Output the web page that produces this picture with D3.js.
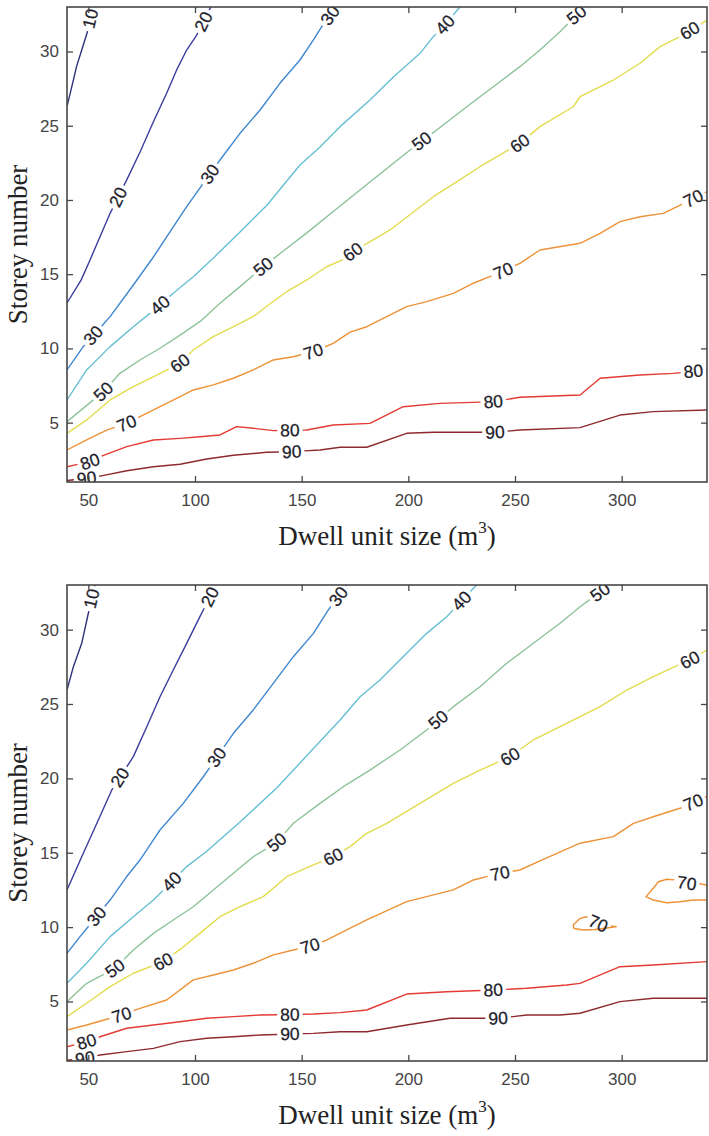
<!DOCTYPE html>
<html>
<head>
<meta charset="utf-8">
<script src="https://cdn.jsdelivr.net/npm/d3@7"></script>
<style>
  body { margin: 0; background: #fff; }
  svg { display: block; }
</style>
</head>
<body>
<svg id="chart" width="709" height="1136"></svg>
<script>
// ---- axis ticks and contour levels ----
const xTicks = [50, 100, 150, 200, 250, 300];
const yTicks = [5, 10, 15, 20, 25, 30];
const xDomain = [40, 340];
const yDomain = [1, 33];
const levels = [10, 20, 30, 40, 50, 60, 70, 80, 90];
const levelColors = ["#30307f", "#3b3d9c", "#3f86cf", "#66bfd3", "#8cc39a", "#e2dc4e", "#ee9237", "#e33b33", "#8e2a2e"];
const xTitle = "Dwell unit size (m";
const yTitle = "Storey number";

// ---- upper panel: contour lines as [dwell unit size, storey number] ----
const upper10 = [[40,26.3],[42.2,27.6],[44.5,29.0],[46.9,30.1],[49.5,31.3],[52.3,33]];
const upper20 = [[40,13.06],[46.6,14.6],[50.8,15.96],[60.2,19.1],[68.0,21.35],[74.3,23.25],[80.5,25.27],[86.7,27.19],[91.4,28.76],[96.1,30.1],[100.8,31.1],[107.4,33]];
const upper30 = [[40,8.55],[47.6,10.12],[60.2,12.14],[71.1,14.27],[80.5,16.16],[96.1,19.55],[111.7,22.69],[121.1,24.49],[130.5,26.06],[139.8,27.86],[149.2,29.43],[155.5,30.78],[159.4,31.67],[166.1,33]];
const upper40 = [[40,6.53],[49.2,8.55],[60.2,10.12],[71.1,11.46],[83.6,12.92],[89.8,13.71],[99.2,14.83],[108.6,16.09],[121.1,17.84],[133.8,19.66],[149.2,22.36],[158.6,23.57],[168,24.94],[182,26.73],[193.1,28.3],[205.5,29.88],[211.7,31.0],[217.2,31.8],[224.2,33]];
const upper50 = [[40,5.06],[57,7.08],[64.8,8.32],[74.2,9.22],[83.6,10.01],[93,10.9],[102.3,11.8],[111.7,13.04],[121.1,14.16],[132,15.5],[141.4,16.56],[152.4,17.78],[168,19.59],[182,21.21],[200.8,23.37],[213.3,24.71],[227.4,26.28],[239.8,27.63],[252.3,28.98],[261.7,30.1],[271.1,31.34],[278.9,32.46],[284.2,33]];
const upper60 = [[40,4.28],[49.2,5.18],[60.2,6.53],[71.1,7.42],[80.5,8.09],[93,9.0],[99.2,9.89],[108.6,10.79],[118,11.46],[127.3,12.14],[133.6,12.84],[143,13.82],[152.4,14.61],[161.7,15.5],[171.1,16.09],[174,16.5],[191.4,17.98],[199.2,18.84],[211.7,20.22],[221.1,21.08],[233.6,22.24],[252.3,23.82],[261.7,24.94],[277.3,26.28],[280.5,26.96],[296.1,28.08],[308.6,29.21],[318,30.33],[327.3,31.0],[340,32.12]];
const upper70 = [[40,3.16],[49.2,3.83],[58.6,4.5],[68,4.95],[74.2,5.4],[83.6,6.07],[93,6.75],[99.2,7.2],[108.6,7.54],[118,7.99],[127.3,8.55],[136.7,9.22],[146.1,9.44],[155.5,9.78],[164.8,10.34],[172.7,11.1],[180.5,11.46],[199.2,12.81],[208.6,13.15],[221.1,13.71],[230.5,14.39],[244.5,15.21],[252.3,15.73],[261.7,16.63],[280.5,17.08],[289.9,17.75],[299.2,18.54],[308.6,18.87],[319.5,19.1],[327.5,19.66],[340,20.56]];
const upper80 = [[40,2.03],[50.8,2.37],[55.5,2.7],[68,3.38],[80.5,3.83],[93,3.94],[102.3,4.05],[111.7,4.17],[119.5,4.73],[127.3,4.62],[136.7,4.46],[152.4,4.5],[164.8,4.84],[182,4.95],[197.6,6.07],[214.8,6.3],[239.8,6.41],[252.3,6.71],[280.5,6.86],[289.9,7.99],[308.6,8.21],[324.2,8.32],[340,8.55]];
const upper90 = [[40,1.1],[49.2,1.25],[55.5,1.4],[68,1.76],[80.5,2.03],[93,2.2],[105.5,2.55],[118,2.8],[133.6,3.0],[145.3,3.04],[158.6,3.16],[168,3.34],[180.5,3.34],[199.2,4.28],[211.7,4.35],[240.6,4.35],[252.3,4.5],[280.5,4.66],[299.2,5.51],[314.8,5.74],[340,5.85]];

// label positions along each upper line (dwell unit size)
const upperLabelsAt = {10:[51], 20:[64,104], 30:[52.3,107,163.3], 40:[83.6,217.2], 50:[57,132,206.3,278.9], 60:[93,174,252.3,332], 70:[68,155.5,244.5,333.6], 80:[50.8,144.5,239.8,333.6], 90:[49.2,145.3,240.6]};

// ---- lower panel ----
const lower10 = [[40,25.94],[43,27.51],[46.9,29.08],[50,31.1],[53.1,33]];
const lower20 = [[40,12.5],[46.9,14.73],[54,16.98],[61,19.22],[71.1,21.46],[77.4,23.47],[83.6,25.49],[89.8,27.29],[96.1,29.08],[102.3,30.87],[109.8,33]];
const lower30 = [[40,8.24],[46.1,9.36],[60.2,11.82],[68,13.4],[74.2,14.51],[80.5,15.86],[83.6,16.53],[94.5,18.32],[103.9,20.11],[118,23.03],[127.3,24.6],[136.7,26.39],[146.1,28.18],[155.5,29.75],[162.5,31.32],[171.1,33]];
const lower40 = [[40,6.22],[49.2,7.57],[60.2,9.36],[71.1,10.7],[80.5,11.82],[96.1,14.07],[105.5,15.1],[121.1,17.07],[138.3,19.35],[157.8,22.36],[168,23.92],[177.4,25.49],[186.7,26.61],[199.2,28.41],[208.6,29.75],[218,30.87],[232,33]];
const lower50 = [[40,4.99],[49.2,6.22],[62.5,7.23],[71.1,8.46],[80.5,9.58],[89.8,10.48],[99.2,11.37],[108.6,12.5],[118,13.62],[127.3,14.73],[138.3,15.69],[146.1,16.98],[158.6,18.32],[169.5,19.44],[182,20.56],[196.1,21.91],[208.6,23.25],[221.1,24.82],[233.6,26.16],[246.1,27.74],[258.6,29.08],[271.1,30.43],[280.5,31.54],[294.5,33]];
const lower60 = [[40,3.98],[49.2,4.88],[60.2,6.0],[71.1,6.9],[85.1,7.68],[93,8.5],[102.3,9.58],[111.7,10.7],[121.1,11.37],[132,12.05],[143,13.39],[155.5,14.18],[164.8,14.73],[172.7,15.41],[180.5,16.31],[189.9,16.98],[205.5,18.32],[221.1,19.67],[233.6,20.56],[247.7,21.46],[258.6,22.58],[274.2,23.7],[289.9,24.82],[302.4,25.94],[314.8,26.84],[332,27.96],[340,28.63]];
const lower70 = [[40,3.08],[49.2,3.42],[65.6,4.09],[74.2,4.54],[86.7,5.1],[99.2,6.45],[108.6,6.78],[118,7.12],[127.3,7.57],[136.7,8.13],[146.1,8.46],[153.9,8.73],[161.7,9.13],[171.1,9.81],[180.5,10.48],[199.2,11.71],[221.1,12.5],[230.5,13.17],[243,13.62],[252.3,13.84],[261.7,14.45],[280.5,15.64],[296.1,16.08],[305.5,16.98],[314.8,17.42],[327.3,17.99],[340,18.77]];
const lower70IslandEast = [[340,12.83],[335.2,12.95],[330.5,12.95],[325,13.17],[321.1,13.22],[317.2,13.05],[314.8,12.61],[311.4,12.05],[314.8,11.82],[321.1,11.64],[327.3,11.71],[333.6,11.82],[340,11.82]];
const lower70IslandWest = [[297.7,10.03],[293.1,10.11],[288.9,10.24],[286.1,10.55],[283.6,10.7],[280.5,10.59],[277.3,10.14],[277.7,9.91],[282,9.81],[287.5,9.84],[293.1,9.94],[297.7,10.03]];
const lower80 = [[40,1.96],[49.2,2.3],[55.5,2.63],[68,3.2],[80.5,3.42],[93,3.64],[105.5,3.87],[118,3.98],[130.5,4.09],[155.5,4.16],[168,4.25],[180.5,4.43],[199.2,5.5],[218,5.66],[239.8,5.77],[255.5,5.89],[274.2,6.11],[280.5,6.22],[299.2,7.34],[314.8,7.45],[340,7.68]];
const lower90 = [[40,1.05],[48.4,1.18],[55.5,1.4],[68,1.63],[80.5,1.85],[93,2.3],[105.5,2.53],[118,2.63],[130.5,2.75],[155.5,2.86],[168,2.97],[180.5,2.97],[199.2,3.42],[219.5,3.87],[242.1,3.87],[255.5,4.09],[271.1,4.09],[280.5,4.21],[299.2,4.99],[314.8,5.22],[340,5.22]];

const lowerLabelsAt = {10:[51.6], 20:[64.8,107], 30:[53.9,110.2,167.2], 40:[89.1,225], 50:[62.5,138.3,214,289.9], 60:[85.1,164.8,247.7,332], 70:[65.6,153.9,243,333.6], 80:[49.2,144.5,239.8], 90:[48.4,144.5,242.1]};

// ---- assemble panel line tables ----
const upperLines = [upper10, upper20, upper30, upper40, upper50, upper60, upper70, upper80, upper90]
  .map((pts, i) => ({ level: levels[i], points: pts, labels: upperLabelsAt[levels[i]] }));
const lowerLines = [lower10, lower20, lower30, lower40, lower50, lower60, lower70, lower80, lower90]
  .map((pts, i) => ({ level: levels[i], points: pts, labels: lowerLabelsAt[levels[i]] }))
  .concat([
    { level: 70, points: lower70IslandEast, labels: [330.5] },
    { level: 70, points: lower70IslandWest, labels: [289] }
  ]);

// ---- layout ----
const svg = d3.select("#chart");
const plotLeft = 67, plotRight = 707;
const panels = [
  { id: "upper", top: 7, bottom: 482, lines: upperLines },
  { id: "lower", top: 585, bottom: 1061, lines: lowerLines }
];
const colorOf = d3.scaleOrdinal().domain(levels).range(levelColors);
const frameColor = "#474747";
const tickFont = "'Liberation Sans', Arial, sans-serif";
const titleFont = "'Liberation Serif', 'Times New Roman', serif";

// helpers on a pixel-space polyline
function cumulative(pts) {
  const cum = [0];
  for (let i = 1; i < pts.length; i++) {
    cum.push(cum[i - 1] + Math.hypot(pts[i][0] - pts[i - 1][0], pts[i][1] - pts[i - 1][1]));
  }
  return cum;
}
function pointAt(pts, cum, s) {
  s = Math.max(0, Math.min(cum[cum.length - 1], s));
  for (let i = 1; i < pts.length; i++) {
    if (s <= cum[i] || i === pts.length - 1) {
      const seg = cum[i] - cum[i - 1] || 1;
      const t = (s - cum[i - 1]) / seg;
      return [pts[i - 1][0] + t * (pts[i][0] - pts[i - 1][0]), pts[i - 1][1] + t * (pts[i][1] - pts[i - 1][1])];
    }
  }
  return pts[pts.length - 1];
}
function arcAtX(pts, cum, px) {
  for (let i = 1; i < pts.length; i++) {
    const x0 = pts[i - 1][0], x1 = pts[i][0];
    if ((px - x0) * (px - x1) <= 0 && x0 !== x1) {
      const t = (px - x0) / (x1 - x0);
      return cum[i - 1] + t * (cum[i] - cum[i - 1]);
    }
  }
  return cum[cum.length - 1] / 2;
}
function keptPieces(pts, cum, cuts) {
  const total = cum[cum.length - 1];
  cuts = cuts.slice().sort((a, b) => a[0] - b[0]);
  const ranges = [];
  let start = 0;
  cuts.forEach(([a, b]) => {
    if (a > start) ranges.push([start, a]);
    start = Math.max(start, b);
  });
  if (start < total) ranges.push([start, total]);
  return ranges.map(([a, b]) => {
    const piece = [pointAt(pts, cum, a)];
    for (let i = 0; i < pts.length; i++) if (cum[i] > a && cum[i] < b) piece.push(pts[i]);
    piece.push(pointAt(pts, cum, b));
    return piece;
  });
}

panels.forEach(panel => {
  const x = d3.scaleLinear().domain(xDomain).range([plotLeft, plotRight]);
  const y = d3.scaleLinear().domain(yDomain).range([panel.bottom, panel.top]);
  const g = svg.append("g").attr("class", "panel-" + panel.id);

  const clipId = "clip-" + panel.id;
  svg.append("defs").append("clipPath").attr("id", clipId)
    .append("rect")
    .attr("x", plotLeft).attr("y", panel.top)
    .attr("width", plotRight - plotLeft).attr("height", panel.bottom - panel.top);

  const plot = g.append("g").attr("clip-path", `url(#${clipId})`);
  const lineGen = d3.line();

  panel.lines.forEach(line => {
    const pts = line.points.map(d => [x(d[0]), y(d[1])]);
    const cum = cumulative(pts);
    const cuts = [];
    const labelGroup = plot.append("g");
    line.labels.forEach(lx => {
      const text = labelGroup.append("text")
        .text(line.level)
        .attr("font-family", tickFont)
        .attr("font-size", 17.5)
        .attr("fill", "#1d1d2b")
        .attr("stroke", "#1d1d2b")
        .attr("stroke-width", 0.25)
        .attr("text-anchor", "middle")
        .attr("dominant-baseline", "central");
      const w = text.node().getComputedTextLength();
      const s0 = arcAtX(pts, cum, x(lx));
      const p = pointAt(pts, cum, s0);
      const p1 = pointAt(pts, cum, s0 - w / 2);
      const p2 = pointAt(pts, cum, s0 + w / 2);
      let ang = Math.atan2(p2[1] - p1[1], p2[0] - p1[0]) * 180 / Math.PI;
      if (ang > 90) ang -= 180;
      if (ang < -90) ang += 180;
      text.attr("transform", `translate(${p[0]},${p[1]}) rotate(${ang})`);
      cuts.push([s0 - w / 2 - 3, s0 + w / 2 + 3]);
    });
    const pieces = keptPieces(pts, cum, cuts);
    plot.insert("path", ":first-child")
      .attr("d", pieces.map(pc => lineGen(pc)).join(""))
      .attr("fill", "none")
      .attr("stroke", colorOf(line.level))
      .attr("stroke-width", 1.4)
      .attr("stroke-linejoin", "round");
  });

  // axes with inward ticks on all four sides
  const styleAxis = sel => {
    sel.select(".domain").remove();
    sel.selectAll(".tick line").attr("stroke", frameColor).attr("stroke-width", 1.3);
    sel.selectAll(".tick text").attr("fill", "#444").attr("font-family", tickFont).attr("font-size", 17);
  };
  g.append("g").attr("transform", `translate(0,${panel.bottom})`)
    .call(d3.axisBottom(x).tickValues(xTicks).tickSize(-6).tickPadding(12).tickSizeOuter(0))
    .call(styleAxis);
  g.append("g").attr("transform", `translate(0,${panel.top})`)
    .call(d3.axisTop(x).tickValues(xTicks).tickSize(-6).tickFormat("").tickSizeOuter(0))
    .call(styleAxis);
  g.append("g").attr("transform", `translate(${plotLeft},0)`)
    .call(d3.axisLeft(y).tickValues(yTicks).tickSize(-6).tickPadding(8).tickSizeOuter(0))
    .call(styleAxis);
  g.append("g").attr("transform", `translate(${plotRight},0)`)
    .call(d3.axisRight(y).tickValues(yTicks).tickSize(-6).tickFormat("").tickSizeOuter(0))
    .call(styleAxis);

  g.append("rect")
    .attr("x", plotLeft).attr("y", panel.top)
    .attr("width", plotRight - plotLeft).attr("height", panel.bottom - panel.top)
    .attr("fill", "none").attr("stroke", frameColor).attr("stroke-width", 1.6);

  // axis titles
  const xt = g.append("text")
    .attr("x", (plotLeft + plotRight) / 2)
    .attr("y", panel.bottom + 63)
    .attr("text-anchor", "middle")
    .attr("font-family", titleFont)
    .attr("font-size", 27)
    .attr("fill", "#222");
  xt.append("tspan").text(xTitle);
  xt.append("tspan").text("3").attr("font-size", 17).attr("dy", -12);
  xt.append("tspan").text(")").attr("dy", 12);

  g.append("text")
    .attr("transform", `translate(27,${(panel.top + panel.bottom) / 2}) rotate(-90)`)
    .attr("text-anchor", "middle")
    .attr("font-family", titleFont)
    .attr("font-size", 27)
    .attr("fill", "#222")
    .text(yTitle);
});
</script>
</body>
</html>
